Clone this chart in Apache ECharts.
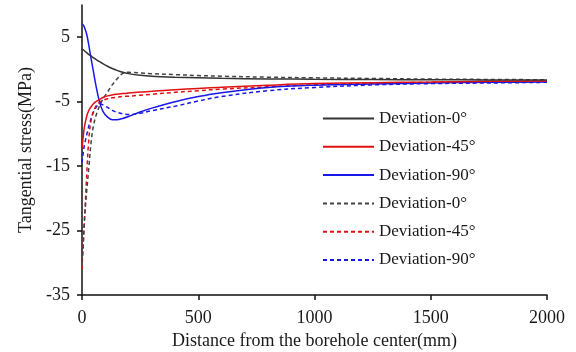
<!DOCTYPE html>
<html>
<head>
<meta charset="utf-8">
<script src="https://cdn.jsdelivr.net/npm/echarts@6/dist/echarts.min.js"></script>
<style>html,body{margin:0;padding:0;background:#fff;}#c{width:576px;height:352px;}</style>
</head>
<body>
<div id="c"></div>
<script>
// Distance from the borehole center (mm)
const distance = [0, 5, 10, 20, 30, 40, 50, 60, 75, 90, 110, 130, 150, 175, 200, 250, 300, 400, 500, 600, 800, 1000, 1250, 1500, 1750, 2000];
// Tangential stress (MPa), solid curves
const solid0  = [3.2, 3.05, 2.9, 2.6, 2.3, 2.05, 1.8, 1.55, 1.2, 0.9, 0.5, 0.15, -0.15, -0.45, -0.65, -0.9, -1.05, -1.2, -1.3, -1.38, -1.47, -1.52, -1.56, -1.6, -1.62, -1.64];
const solid45 = [-12.2, -10.5, -9.0, -7.3, -6.3, -5.75, -5.3, -5.0, -4.65, -4.35, -4.1, -3.95, -3.85, -3.75, -3.65, -3.5, -3.4, -3.15, -2.95, -2.75, -2.45, -2.2, -2.05, -1.95, -1.85, -1.8];
const solid90 = [7.1, 6.9, 6.6, 5.5, 3.6, 1.5, -0.5, -2.5, -5.0, -6.5, -7.4, -7.8, -7.8, -7.6, -7.3, -6.6, -6.0, -5.0, -4.2, -3.6, -2.8, -2.45, -2.25, -2.1, -2.0, -1.95];
// Tangential stress (MPa), dashed curves
const dash0  = [-30, -27.5, -23.5, -19, -15, -11, -8.6, -7.2, -5.7, -4.6, -3.5, -2.4, -1.5, -0.6, -0.45, -0.55, -0.65, -0.8, -0.95, -1.05, -1.2, -1.3, -1.4, -1.5, -1.55, -1.6];
const dash45 = [-31, -27, -24, -16.5, -10.5, -7.7, -6.4, -5.7, -5.1, -4.8, -4.55, -4.4, -4.3, -4.2, -4.15, -4.0, -3.85, -3.55, -3.3, -3.05, -2.7, -2.4, -2.15, -2.0, -1.9, -1.85];
const dash90 = [-14.5, -13, -11.8, -10.2, -8.7, -7.5, -6.6, -5.9, -5.3, -5.5, -5.9, -6.35, -6.65, -6.9, -7.0, -6.8, -6.4, -5.7, -4.9, -4.2, -3.3, -2.8, -2.4, -2.2, -2.1, -2.0];

const seriesNames = ['Deviation-0°', 'Deviation-45°', 'Deviation-90°', 'Deviation-0° ', 'Deviation-45° ', 'Deviation-90° '];
const legendLabels = ['Deviation-0°', 'Deviation-45°', 'Deviation-90°', 'Deviation-0°', 'Deviation-45°', 'Deviation-90°'];
const yTicks = [-35, -25, -15, -5, 5];
const xTicks = [0, 500, 1000, 1500, 2000];

const colors = ['#333333', '#e01010', '#1818e8', '#444444', '#e01010', '#1818e8'];
const dataSets = [solid0, solid45, solid90, dash0, dash45, dash90];
const font = '"Liberation Serif", "Times New Roman", serif';

function pairs(ys) { return distance.map((d, i) => [d, ys[i]]); }

const series = dataSets.map((ys, i) => ({
  name: seriesNames[i],
  type: 'line',
  data: pairs(ys),
  smooth: 0.35,
  symbol: 'none',
  z: 10 - i,
  lineStyle: { color: colors[i], width: 1.5, type: i < 3 ? 'solid' : [4, 3] },
  itemStyle: { color: colors[i] }
}));

const chart = echarts.init(document.getElementById('c'), null, { renderer: 'canvas' });
chart.setOption({
  animation: false,
  backgroundColor: '#fff',
  grid: { left: 82, right: 29, top: 5, bottom: 57, containLabel: false, outerBoundsMode: 'none' },
  legend: {
    orient: 'vertical',
    left: 317,
    top: 105,
    itemWidth: 51,
    itemHeight: 14,
    itemGap: 11.3,
    data: seriesNames,
    itemStyle: { opacity: 0, color: 'transparent', borderColor: 'transparent', borderWidth: 0 },
    formatter: function (n) { return legendLabels[seriesNames.indexOf(n)]; },
    textStyle: { fontFamily: font, fontSize: 17, color: '#1a1a1a' }
  },
  xAxis: {
    type: 'value',
    min: 0, max: 2000, interval: 500,
    name: 'Distance from the borehole center(mm)',
    nameLocation: 'middle',
    nameGap: 32,
    nameTextStyle: { fontFamily: font, fontSize: 18, color: '#1a1a1a' },
    splitLine: { show: false },
    axisLine: { show: true, onZero: false, lineStyle: { color: '#111', width: 1.5 } },
    axisTick: { show: true, inside: false, length: 5, lineStyle: { color: '#111', width: 1.5 }, customValues: xTicks },
    axisLabel: { fontFamily: font, fontSize: 18, color: '#1a1a1a', margin: 14, customValues: xTicks, formatter: function (v) { return String(v); } }
  },
  yAxis: {
    type: 'value',
    min: -35, max: 10, interval: 5,
    name: 'Tangential stress(MPa)',
    nameLocation: 'middle',
    nameGap: 46,
    nameTextStyle: { fontFamily: font, fontSize: 18, color: '#1a1a1a' },
    splitLine: { show: false },
    axisLine: { show: true, onZero: false, lineStyle: { color: '#111', width: 1.5 } },
    axisTick: { show: true, inside: false, length: 5, lineStyle: { color: '#111', width: 1.5 }, customValues: yTicks },
    axisLabel: { fontFamily: font, fontSize: 18, color: '#1a1a1a', margin: 12, customValues: yTicks, formatter: function (v) { return String(v); } }
  },
  series: series
});
</script>
</body>
</html>
